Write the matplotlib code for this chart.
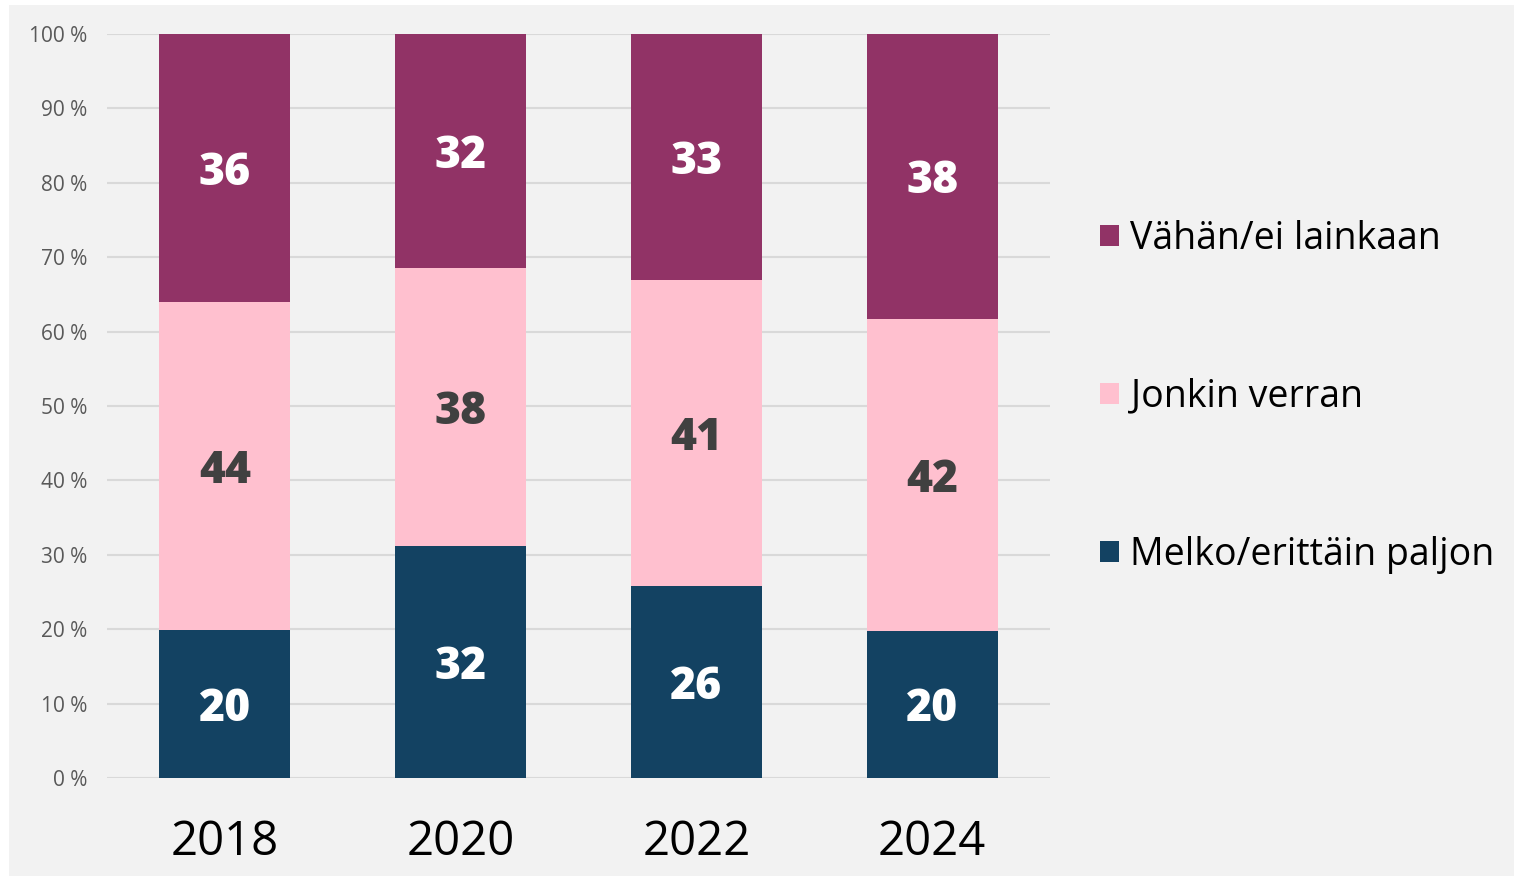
import matplotlib
matplotlib.use("Agg")
import matplotlib.pyplot as plt
from matplotlib.patches import Rectangle, Patch
import numpy as np

years = ["2018", "2020", "2022", "2024"]
series_names = ["Melko/erittäin paljon", "Jonkin verran", "Vähän/ei lainkaan"]
melko = [19.9, 31.2, 25.8, 19.8]
jonkin = [44.1, 37.3, 41.1, 41.9]
vahan = [36.0, 31.5, 33.1, 38.3]
label_melko = ["20", "32", "26", "20"]
label_jonkin = ["44", "38", "41", "42"]
label_vahan = ["36", "32", "33", "38"]
yticks = [0, 10, 20, 30, 40, 50, 60, 70, 80, 90, 100]

colors = ["#134262", "#FFC0CF", "#913366"]
text_colors = ["white", "#404040", "white"]

plt.rcParams['font.family'] = ['Open Sans', 'DejaVu Sans']

fig = plt.figure(figsize=(15.14, 8.77), dpi=100, facecolor="white")
# grey panel behind everything
fig.patches.append(Rectangle((9 / 1514, 1 - 876 / 877), 1505 / 1514, 871 / 877,
                             transform=fig.transFigure, facecolor="#F2F2F2",
                             edgecolor="none", zorder=-10))

ax = fig.add_axes([107 / 1514, 1 - 778 / 877, 943 / 1514, 744 / 877])
ax.set_facecolor("none")

x = np.arange(len(years))
width = 0.555
bottom = np.zeros(len(years))
all_vals = [melko, jonkin, vahan]
all_labels = [label_melko, label_jonkin, label_vahan]
for vals, labs, col, tcol in zip(all_vals, all_labels, colors, text_colors):
    vals = np.array(vals)
    ax.bar(x, vals, width, bottom=bottom, color=col, zorder=2)
    for xi, b, v, lab in zip(x, bottom, vals, labs):
        ax.text(xi, b + v / 2, lab, ha="center", va="center_baseline", fontsize=32,
                fontweight="heavy", color=tcol, zorder=3)
    bottom = bottom + vals

ax.set_xlim(-0.5, 3.5)
ax.set_ylim(0, 100)
ax.set_yticks(yticks)
ax.set_yticklabels([f"{t} %" for t in yticks], fontsize=15, color="#595959")
ax.set_xticks(x)
ax.set_xticklabels(years, fontsize=34, color="black")
ax.tick_params(axis="y", length=0, pad=14)
ax.tick_params(axis="x", length=0, pad=29)
ax.grid(axis="y", color="#D9D9D9", linewidth=1.5, zorder=0)
for s in ax.spines.values():
    s.set_visible(False)

handles = [Patch(facecolor=c) for c in colors][::-1]
fig.legend(handles, series_names[::-1], loc="upper left",
           bbox_to_anchor=(1066 / 1514, 1 - 186 / 877), frameon=False,
           fontsize=27, handlelength=0.52, handleheight=0.52, handletextpad=0.3,
           labelspacing=3.2)

fig.savefig("out.png", dpi=100, facecolor="white")
